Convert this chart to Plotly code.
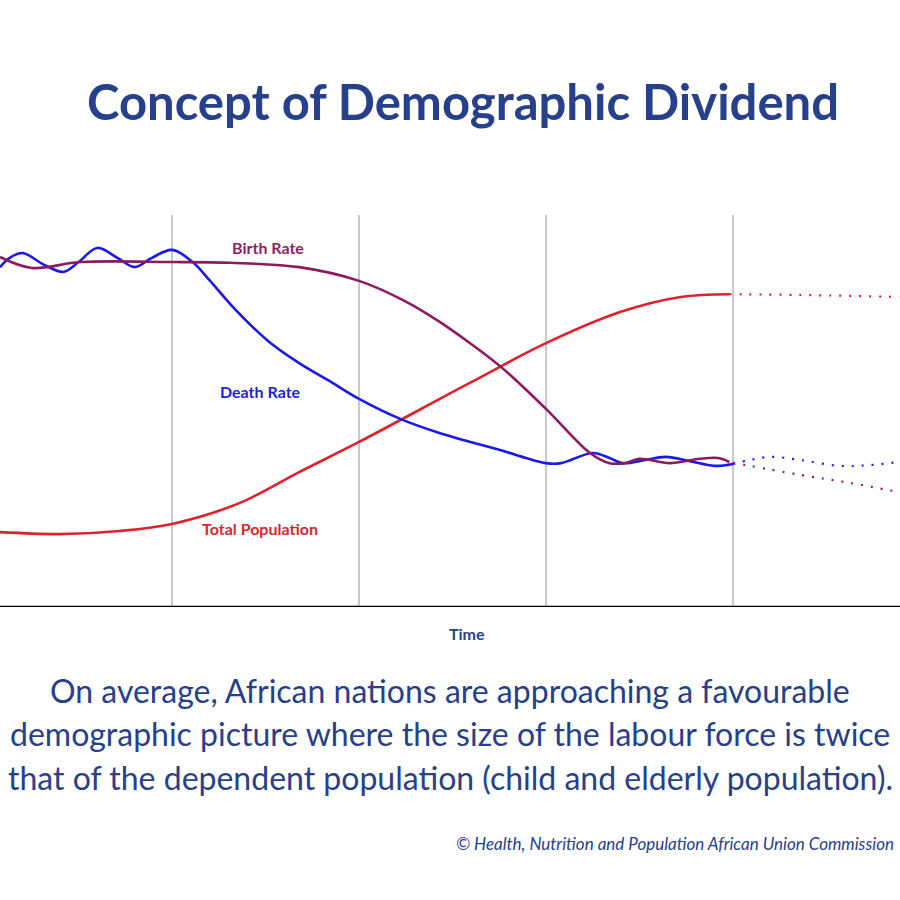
import plotly.graph_objects as go

# ---- data (time in demographic-transition stages, rates as index 0-100) ----
birth_x = [0.08, 0.25, 0.51, 1.00, 1.31, 1.68, 2.00, 2.235, 2.417, 2.594, 2.765, 3.005, 3.235, 3.34, 3.42, 3.50, 3.66, 3.82, 3.92, 3.98]
birth_y = [89.3, 86.5, 88.0, 88.0, 87.8, 86.7, 83.2, 78.3, 73.2, 67.3, 61.0, 50.3, 39.3, 36.7, 36.7, 37.8, 36.7, 37.8, 38.0, 37.0]
birth_proj_x = [4.00, 4.36, 4.63, 4.89]
birth_proj_y = [36.8, 33.7, 31.6, 29.3]

death_x = [0.08, 0.13, 0.20, 0.32, 0.42, 0.50, 0.60, 0.71, 0.80, 0.89, 1.00, 1.11, 1.20, 1.34, 1.52, 1.68, 1.85, 2.00, 2.22, 2.43, 2.75, 3.00, 3.08, 3.25, 3.34, 3.41, 3.53, 3.64, 3.77, 3.90, 4.00]
death_y = [86.7, 89.0, 90.3, 87.2, 85.5, 88.0, 91.6, 89.0, 86.7, 89.0, 91.1, 88.0, 83.4, 75.8, 67.6, 62.2, 57.4, 53.1, 48.0, 44.4, 40.1, 36.7, 36.7, 39.3, 38.0, 36.7, 37.5, 38.3, 37.2, 36.0, 36.5]
death_proj_x = [4.00, 4.09, 4.20, 4.36, 4.57, 4.73, 4.89]
death_proj_y = [36.5, 37.5, 38.3, 37.5, 36.0, 36.2, 37.0]

pop_x = [0.08, 0.40, 0.72, 1.00, 1.36, 1.68, 2.00, 2.59, 3.00, 3.40, 3.72, 3.98]
pop_y = [19.1, 18.6, 19.4, 21.2, 26.5, 34.4, 42.1, 57.1, 67.3, 75.3, 79.1, 79.8]
pop_proj_x = [3.98, 4.36, 4.89]
pop_proj_y = [79.8, 79.6, 79.1]

stage_bounds = [1, 2, 3, 4]

title = "Concept of Demographic Dividend"
body_lines = [
    "On average, African nations are approaching a favourable",
    "demographic picture where the size of the labour force is twice",
    "that of the dependent population (child and elderly population).",
]
credit = "© Health, Nutrition and Population African Union Commission"

PURPLE = "#8C1B5E"
BLUE = "#1A1AE6"
RED = "#E0202A"
NAVY = "#27408B"

fig = go.Figure()
solid = dict(width=2.6, shape="spline", smoothing=1.0)
dotted = dict(width=2.2, shape="spline", smoothing=1.0, dash="2px,8px")

fig.add_trace(go.Scatter(x=pop_x, y=pop_y, mode="lines", line=dict(color=RED, **solid)))
fig.add_trace(go.Scatter(x=pop_proj_x, y=pop_proj_y, mode="lines", line=dict(color=RED, **dotted)))
fig.add_trace(go.Scatter(x=death_x, y=death_y, mode="lines", line=dict(color=BLUE, **solid)))
fig.add_trace(go.Scatter(x=death_proj_x, y=death_proj_y, mode="lines", line=dict(color=BLUE, **dotted)))
fig.add_trace(go.Scatter(x=birth_x, y=birth_y, mode="lines", line=dict(color=PURPLE, **solid)))
fig.add_trace(go.Scatter(x=birth_proj_x, y=birth_proj_y, mode="lines", line=dict(color=PURPLE, **dotted)))

# baseline
fig.add_shape(type="line", xref="paper", yref="y", x0=0, x1=1, y0=0, y1=0,
              line=dict(color="black", width=2.5), layer="above")

label_font = "Lato"
fig.add_annotation(x=1.513, y=91.8, xref="x", yref="y", text="<b>Birth Rate</b>", showarrow=False,
                   font=dict(family=label_font, size=16, color="#8E1F63"))
fig.add_annotation(x=1.471, y=55.1, xref="x", yref="y", text="<b>Death Rate</b>", showarrow=False,
                   font=dict(family=label_font, size=16, color="#1E22D6"))
fig.add_annotation(x=1.471, y=19.9, xref="x", yref="y", text="<b>Total Population</b>", showarrow=False,
                   font=dict(family=label_font, size=16, color="#D9262E"))
fig.add_annotation(x=467/900, y=(607-633)/392, xref="paper", yref="paper", text="<b>Time</b>",
                   showarrow=False, yanchor="middle",
                   font=dict(family=label_font, size=16, color=NAVY))

fig.add_annotation(x=463/900, y=(607-101)/392, xref="paper", yref="paper", text="<b>" + title + "</b>",
                   showarrow=False, yanchor="middle",
                   font=dict(family=label_font, size=49, color=NAVY))

for line, yc in zip(body_lines, [690, 733, 777]):
    fig.add_annotation(x=450/900, y=(607-yc)/392, xref="paper", yref="paper", text=line,
                       showarrow=False, yanchor="middle",
                       font=dict(family=label_font, size=32, color=NAVY))

fig.add_annotation(x=896/900, y=(607-843)/392, xref="paper", yref="paper", text="<i>" + credit + "</i>",
                   showarrow=False, xanchor="right", yanchor="middle",
                   font=dict(family=label_font, size=17, color=NAVY))

fig.update_xaxes(range=[0.08, 4.893], tickvals=stage_bounds, showticklabels=False, showgrid=True,
                 gridcolor="#C9C9C9", gridwidth=1.5, zeroline=False, showline=False, ticks="")
fig.update_yaxes(range=[0, 100], showticklabels=False, showgrid=False, zeroline=False, showline=False, ticks="")

fig.update_layout(width=900, height=900, margin=dict(l=0, r=0, t=215, b=293),
                  paper_bgcolor="white", plot_bgcolor="white", showlegend=False)

fig.write_html("out.html", config={"displayModeBar": False},
               post_script="document.body.style.margin='0';document.body.style.overflow='hidden';")
